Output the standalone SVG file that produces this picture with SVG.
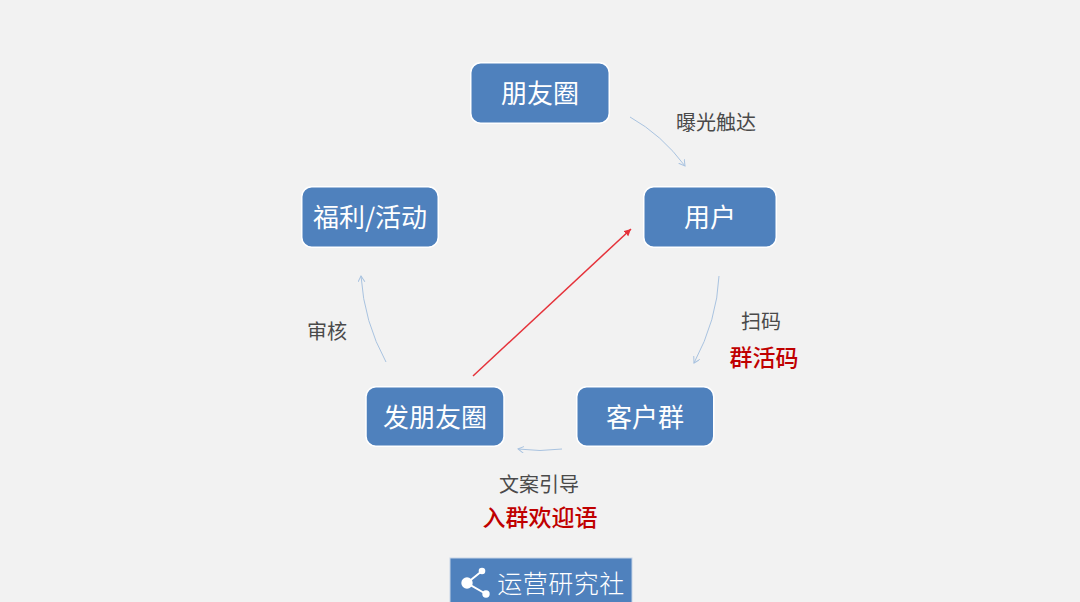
<svg xmlns="http://www.w3.org/2000/svg" width="1080" height="602" viewBox="0 0 1080 602">
<style>
text{font-family:"Noto Sans CJK SC","Liberation Sans",sans-serif;text-anchor:middle}
.box{fill:#4f81bd;stroke:#fff;stroke-width:1.5}
.nl{fill:#fff;font-size:26px}
.l{fill:#4a4a4a;font-size:20px}
.r{fill:#c00000;font-size:23px;font-weight:500}
.c{fill:none;stroke:#a9c3e0;stroke-width:1}
</style>
<defs>
<marker id="a" markerWidth="10" markerHeight="10" refX="6" refY="3.5" orient="auto" markerUnits="userSpaceOnUse"><path d="M0 0L6 3.5L0 7" fill="none" stroke="#a9c3e0" stroke-width="1"/></marker>
<marker id="b" markerWidth="10" markerHeight="10" refX="7" refY="3.5" orient="auto" markerUnits="userSpaceOnUse"><path d="M0 0L7 3.5L0 7Z" fill="#e5323a"/></marker>
</defs>
<rect width="1080" height="602" fill="#f2f2f2"/>
<g id="connectors">
<path class="c" d="M630 117Q662 135 685 166" marker-end="url(#a)"/>
<path class="c" d="M719 276Q717 320 694 363" marker-end="url(#a)"/>
<path class="c" d="M562 449Q540 452 518 449" marker-end="url(#a)"/>
<path class="c" d="M386 362Q364 322 361 276" marker-end="url(#a)"/>
<path d="M473 376L631 229" fill="none" stroke="#e5323a" stroke-width="1.5" marker-end="url(#b)"/>
</g>
<g id="node-pyq"><rect class="box" x="470.750" y="62.750" width="138.500" height="60.500" rx="10"/><text class="nl" x="540" y="102.500">朋友圈</text></g>
<g id="node-user"><rect class="box" x="643.750" y="186.750" width="132.500" height="60.500" rx="10"/><text class="nl" x="710" y="226.500">用户</text></g>
<g id="node-group"><rect class="box" x="576.750" y="386.750" width="137" height="59.500" rx="10"/><text class="nl" x="645" y="426.500">客户群</text></g>
<g id="node-post"><rect class="box" x="366" y="386.750" width="138" height="59.500" rx="10"/><text class="nl" x="435" y="426.500">发朋友圈</text></g>
<g id="node-welfare"><rect class="box" x="301.750" y="186.750" width="136.500" height="60.500" rx="10"/><text class="nl" x="370" y="226.500">福利/活动</text></g>
<g id="labels">
<text class="l" x="716" y="129.500">曝光触达</text>
<text class="l" x="761" y="328.500">扫码</text>
<text class="r" x="764" y="365.500">群活码</text>
<text class="l" x="539" y="491.500">文案引导</text>
<text class="r" x="540" y="525.500">入群欢迎语</text>
<text class="l" x="327" y="338.500">审核</text>
</g>
<g id="logo">
<rect x="450" y="558" width="182" height="45" fill="#4f81bd" stroke="#c5d3e6" stroke-width="1"/>
<path d="M482 571L467 583L486 594" fill="none" stroke="#fff" stroke-width="2"/>
<circle cx="482" cy="571" r="3.300" fill="#fff"/><circle cx="467" cy="583" r="5.700" fill="#fff"/><circle cx="486" cy="594" r="3.700" fill="#fff"/>
<text x="561" y="593" fill="#fff" font-size="25" letter-spacing="0.500" style="font-weight:300">运营研究社</text>
</g>
</svg>
